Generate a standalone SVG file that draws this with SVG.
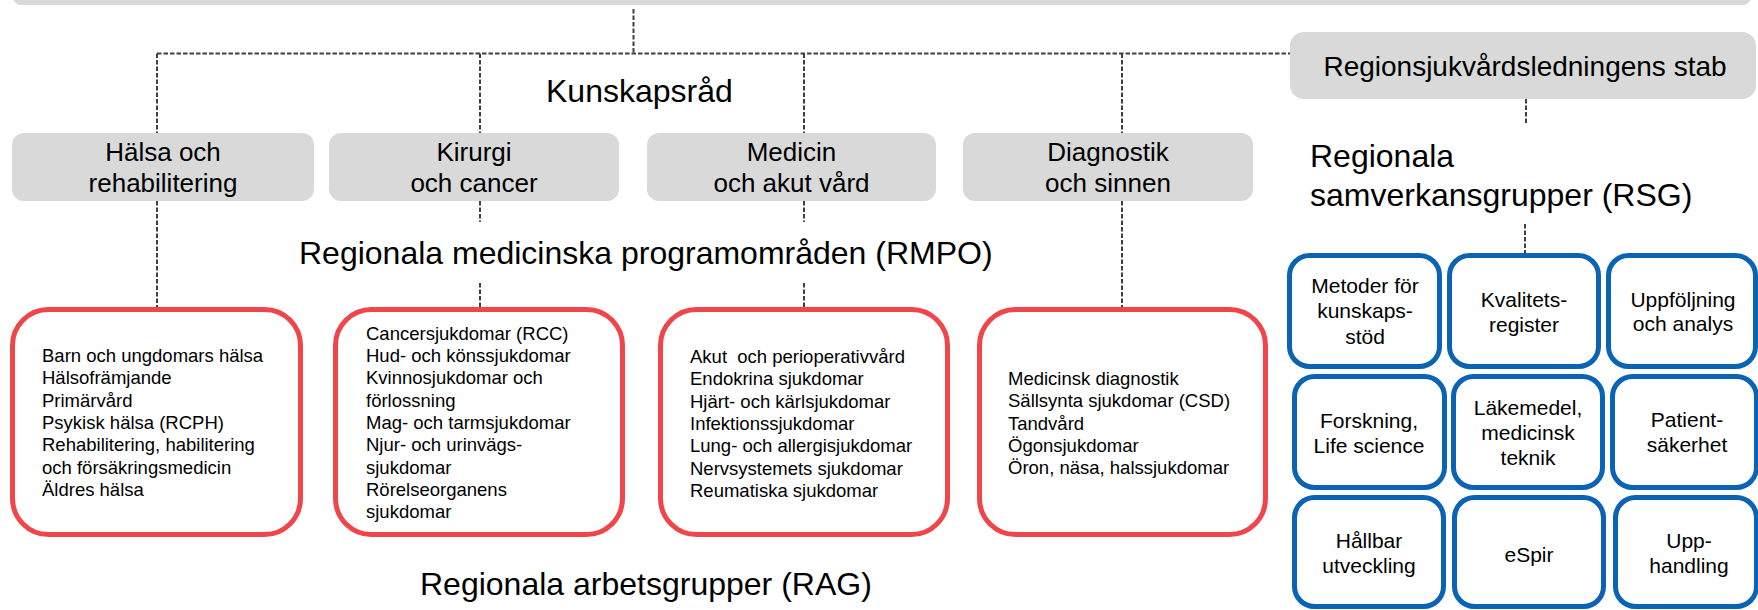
<svg xmlns="http://www.w3.org/2000/svg" width="1758" height="610" viewBox="0 0 1758 610">
<style>
text{font-family:"Liberation Sans",Arial,sans-serif;fill:#000}
.gray{fill:#d9d9d9}
.red{fill:#fff;stroke:#ef464b;stroke-width:5}
.blue{fill:#fff;stroke:#0b64b3;stroke-width:5}
.gt{font-size:26px;text-anchor:middle}
.lbl{font-size:32px}
.rt{font-size:18.5px}
.bt{font-size:21px;text-anchor:middle}
.dash{fill:none;stroke:#404040;stroke-width:2;stroke-dasharray:4.5 2}
</style>
<rect id="banner" class="gray" x="13" y="-20" width="1738" height="25" rx="8"/>
<g id="connectors" class="dash">
<path d="M633.5 9V53.5"/>
<path d="M157 53.5H1290"/>
<path d="M157 53.5V133M480 53.5V133M804 53.5V133M1122 53.5V133"/>
<path d="M157 201V307M480 201V222M480 283V307M804 201V222M804 283V307M1122 201V307"/>
<path d="M1526 99V125M1525 224V253"/>
</g>
<g id="kr-halsa"><rect class="gray" x="12" y="133" width="302" height="68" rx="12"/><text class="gt"><tspan x="163" y="161">Hälsa och</tspan><tspan x="163" y="192">rehabilitering</tspan></text></g>
<g id="kr-kirurgi"><rect class="gray" x="329" y="133" width="290" height="68" rx="12"/><text class="gt"><tspan x="474" y="161">Kirurgi</tspan><tspan x="474" y="192">och cancer</tspan></text></g>
<g id="kr-medicin"><rect class="gray" x="647" y="133" width="289" height="68" rx="12"/><text class="gt"><tspan x="791.5" y="161">Medicin</tspan><tspan x="791.5" y="192">och akut vård</tspan></text></g>
<g id="kr-diagnostik"><rect class="gray" x="963" y="133" width="290" height="68" rx="12"/><text class="gt"><tspan x="1108" y="161">Diagnostik</tspan><tspan x="1108" y="192">och sinnen</tspan></text></g>
<g id="stab"><rect class="gray" x="1290" y="32" width="466" height="67" rx="14"/><text x="1525" y="76" style="font-size:28px;text-anchor:middle">Regionsjukvårdsledningens stab</text></g>
<text id="lbl-kunskapsrad" class="lbl" x="546" y="102">Kunskapsråd</text>
<text id="lbl-rmpo" class="lbl" x="299" y="264">Regionala medicinska programområden (RMPO)</text>
<text id="lbl-rag" class="lbl" x="420" y="595">Regionala arbetsgrupper (RAG)</text>
<text id="lbl-rsg" class="lbl"><tspan x="1310" y="167">Regionala</tspan><tspan x="1310" y="206">samverkansgrupper (RSG)</tspan></text>
<g id="rag-1"><rect class="red" x="12.5" y="309.5" width="288" height="225" rx="36"/><text class="rt"><tspan x="42" y="362">Barn och ungdomars hälsa</tspan><tspan x="42" y="384.3">Hälsofrämjande</tspan><tspan x="42" y="406.6">Primärvård</tspan><tspan x="42" y="428.9">Psykisk hälsa (RCPH)</tspan><tspan x="42" y="451.2">Rehabilitering, habilitering</tspan><tspan x="42" y="473.5">och försäkringsmedicin</tspan><tspan x="42" y="495.8">Äldres hälsa</tspan></text></g>
<g id="rag-2"><rect class="red" x="335.5" y="309.5" width="287" height="225" rx="36"/><text class="rt"><tspan x="366" y="339.7">Cancersjukdomar (RCC)</tspan><tspan x="366" y="362">Hud- och könssjukdomar</tspan><tspan x="366" y="384.3">Kvinnosjukdomar och</tspan><tspan x="366" y="406.6">förlossning</tspan><tspan x="366" y="428.9">Mag- och tarmsjukdomar</tspan><tspan x="366" y="451.2">Njur- och urinvägs-</tspan><tspan x="366" y="473.5">sjukdomar</tspan><tspan x="366" y="495.8">Rörelseorganens</tspan><tspan x="366" y="518.1">sjukdomar</tspan></text></g>
<g id="rag-3"><rect class="red" x="660.5" y="309.5" width="287" height="225" rx="36"/><text class="rt" xml:space="preserve"><tspan x="690" y="363">Akut  och perioperativvård</tspan><tspan x="690" y="385.3">Endokrina sjukdomar</tspan><tspan x="690" y="407.6">Hjärt- och kärlsjukdomar</tspan><tspan x="690" y="429.9">Infektionssjukdomar</tspan><tspan x="690" y="452.2">Lung- och allergisjukdomar</tspan><tspan x="690" y="474.5">Nervsystemets sjukdomar</tspan><tspan x="690" y="496.8">Reumatiska sjukdomar</tspan></text></g>
<g id="rag-4"><rect class="red" x="979.5" y="309.5" width="286" height="225" rx="36"/><text class="rt"><tspan x="1008" y="385">Medicinsk diagnostik</tspan><tspan x="1008" y="407.3">Sällsynta sjukdomar (CSD)</tspan><tspan x="1008" y="429.6">Tandvård</tspan><tspan x="1008" y="451.9">Ögonsjukdomar</tspan><tspan x="1008" y="474.2">Öron, näsa, halssjukdomar</tspan></text></g>
<g id="rsg-metoder"><rect class="blue" x="1289.5" y="255.5" width="150" height="111" rx="20"/><text class="bt"><tspan x="1365" y="293">Metoder för</tspan><tspan x="1365" y="318">kunskaps-</tspan><tspan x="1365" y="344">stöd</tspan></text></g>
<g id="rsg-kvalitet"><rect class="blue" x="1449.5" y="255.5" width="149" height="111" rx="20"/><text class="bt"><tspan x="1524" y="307">Kvalitets-</tspan><tspan x="1524" y="332">register</tspan></text></g>
<g id="rsg-uppfoljning"><rect class="blue" x="1608.5" y="255.5" width="147" height="111" rx="20"/><text class="bt"><tspan x="1683" y="307">Uppföljning</tspan><tspan x="1683" y="331">och analys</tspan></text></g>
<g id="rsg-forskning"><rect class="blue" x="1294.5" y="376.5" width="150" height="111" rx="20"/><text class="bt"><tspan x="1369" y="428">Forskning,</tspan><tspan x="1369" y="453">Life science</tspan></text></g>
<g id="rsg-lakemedel"><rect class="blue" x="1453.5" y="376.5" width="149" height="111" rx="20"/><text class="bt"><tspan x="1528" y="415">Läkemedel,</tspan><tspan x="1528" y="440">medicinsk</tspan><tspan x="1528" y="465">teknik</tspan></text></g>
<g id="rsg-patient"><rect class="blue" x="1612.5" y="376.5" width="144" height="111" rx="20"/><text class="bt"><tspan x="1687" y="427">Patient-</tspan><tspan x="1687" y="452">säkerhet</tspan></text></g>
<g id="rsg-hallbar"><rect class="blue" x="1294.5" y="497.5" width="149" height="109" rx="20"/><text class="bt"><tspan x="1369" y="548">Hållbar</tspan><tspan x="1369" y="573">utveckling</tspan></text></g>
<g id="rsg-espir"><rect class="blue" x="1454.5" y="497.5" width="149" height="109" rx="20"/><text class="bt" x="1529" y="562">eSpir</text></g>
<g id="rsg-upphandling"><rect class="blue" x="1615.5" y="497.5" width="141" height="109" rx="20"/><text class="bt"><tspan x="1689" y="548">Upp-</tspan><tspan x="1689" y="573">handling</tspan></text></g>
</svg>
